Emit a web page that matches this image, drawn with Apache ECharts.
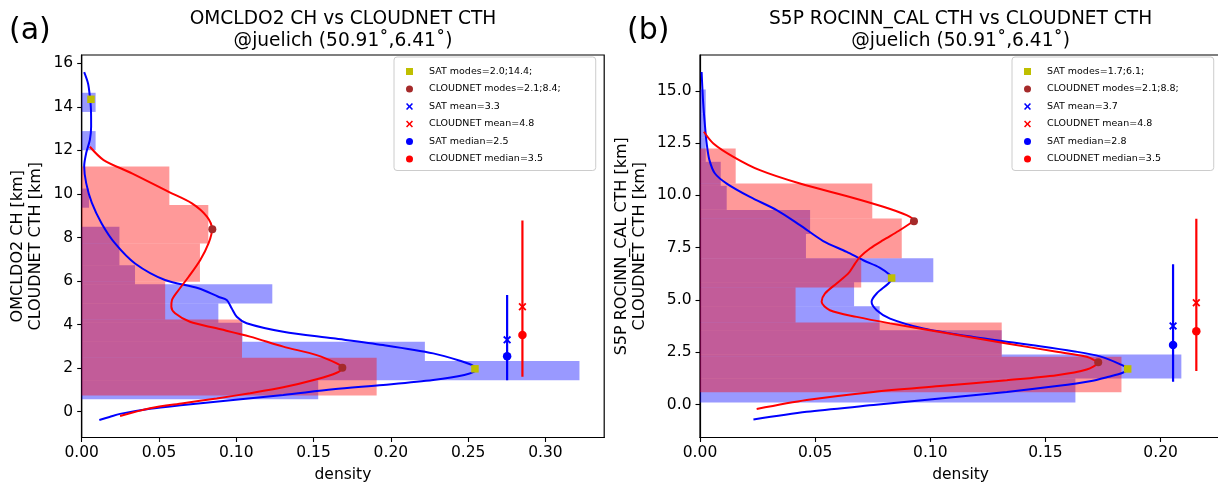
<!DOCTYPE html>
<html>
<head>
<meta charset="utf-8">
<script src="https://cdn.jsdelivr.net/npm/echarts@6/dist/echarts.min.js"></script>
<style>
html,body{margin:0;padding:0;background:#fff;}
#c{width:1218px;height:486px;}
</style>
</head>
<body>
<div id="c"></div>
<script>
// ---------- Panel (a): OMCLDO2 CH vs CLOUDNET CTH ----------
const satEdgesA = [0.57,1.45,2.33,3.21,4.09,4.97,5.85,6.73,7.61,8.49,9.37,10.25,11.13,12.01,12.89,13.77,14.65];
const satDensA  = [0.153,0.322,0.222,0.104,0.0884,0.1233,0.0345,0.0244,0.0244,0,0.0047,0,0,0.009,0,0.009];
const cnEdgesA  = [0.74,2.48,4.24,5.97,7.73,9.49,11.26];
const cnDensA   = [0.1908,0.1037,0.054,0.0765,0.0819,0.0567];

const satKdeA = [[0.0114,-0.38],[0.018,-0.24],[0.0248,-0.1],[0.0442,0.14],[0.0657,0.31],[0.098,0.54],
  [0.1304,0.77],[0.1627,1.03],[0.195,1.23],[0.2274,1.46],[0.2475,1.69],[0.2548,1.9],[0.2535,2.1],
  [0.2447,2.34],[0.2274,2.68],[0.195,3.06],[0.1627,3.37],[0.1304,3.67],[0.1067,4.06],[0.1003,4.36],
  [0.097,4.75],[0.0938,5.13],[0.0884,5.28],[0.0755,5.67],[0.0539,6.05],[0.0345,6.81],[0.0216,7.73],
  [0.0129,8.65],[0.0065,9.6],[0.0029,10.5],[0.0016,11.27],[0.0029,11.88],[0.0053,12.49],[0.0061,13.1],
  [0.006,13.86],[0.0053,14.47],[0.0041,15.08],[0.0016,15.6]];
const cnKdeA = [[0.0248,-0.2],[0.0442,0.16],[0.0657,0.39],[0.0873,0.61],[0.1089,0.85],[0.1304,1.12],
  [0.152,1.49],[0.165,1.79],[0.1688,2.02],[0.165,2.22],[0.152,2.6],[0.1304,2.99],[0.1089,3.45],
  [0.0873,3.83],[0.07,4.13],[0.0604,4.52],[0.058,4.82],[0.0584,5.13],[0.0627,5.59],[0.0692,6.2],
  [0.0767,6.97],[0.0821,7.74],[0.0843,8.38],[0.081,8.96],[0.0713,9.57],[0.0563,10.1],[0.0325,10.95],
  [0.0142,11.56],[0.0053,12.17]];

const satModesA = [[0.2544,1.97],[0.006,14.35]];
const cnModesA  = [[0.1686,2.02],[0.0845,8.38]];
const satStatA  = {x:0.2752, lo:1.45, hi:5.36, mean:3.3, median:2.55};
const cnStatA   = {x:0.2851, lo:1.6,  hi:8.78, mean:4.82, median:3.52};
const legendA = ['SAT modes=2.0;14.4;','CLOUDNET modes=2.1;8.4;','SAT mean=3.3','CLOUDNET mean=4.8','SAT median=2.5','CLOUDNET median=3.5'];
const titleA = 'OMCLDO2 CH vs CLOUDNET CTH\n@juelich (50.91˚,6.41˚)';
const ynameA = 'OMCLDO2 CH [km]\nCLOUDNET CTH [km]';
const xTicksA = [0,0.05,0.10,0.15,0.20,0.25,0.30];
const yTicksA = [0,2,4,6,8,10,12,14,16];

// ---------- Panel (b): S5P ROCINN_CAL CTH vs CLOUDNET CTH ----------
const satEdgesB = [0.09,1.24,2.39,3.55,4.70,5.85,7.00,8.16,9.31,10.46,11.61,12.76,13.92,15.07];
const satDensB  = [0.163,0.209,0.131,0.078,0.0669,0.1013,0.046,0.0478,0.0116,0.009,0.0025,0.0025,0.0025];
const cnEdgesB  = [0.59,2.28,3.92,5.60,7.00,8.90,10.57,12.25];
const cnDensB   = [0.183,0.131,0.0415,0.070,0.0876,0.0748,0.0155];

const satKdeB = [[0.0232,-0.72],[0.0463,-0.35],[0.0753,-0.03],[0.1042,0.29],[0.1332,0.6],[0.1549,0.88],
  [0.1693,1.11],[0.1775,1.33],[0.1835,1.52],[0.1857,1.7],[0.1825,1.92],[0.1737,2.3],[0.162,2.55],
  [0.1476,2.79],[0.1187,3.23],[0.097,3.64],[0.0825,4.11],[0.0767,4.51],[0.0745,4.91],[0.0767,5.31],
  [0.0818,5.79],[0.0832,6.03],[0.0825,6.19],[0.078,6.55],[0.0709,6.9],[0.0637,7.3],[0.0535,7.82],
  [0.0434,8.58],[0.0333,9.3],[0.0217,9.93],[0.0116,10.57],[0.0065,11.05],[0.0041,11.69],[0.0029,12.49],
  [0.0022,13.28],[0.0014,14.4],[0.0007,15.91]];
const cnKdeB = [[0.0246,-0.22],[0.0463,0.21],[0.0753,0.6],[0.1042,0.88],[0.1332,1.16],[0.1549,1.4],
  [0.1679,1.67],[0.1725,1.98],[0.1679,2.28],[0.1549,2.52],[0.1332,2.92],[0.1042,3.47],[0.0825,3.88],
  [0.068,4.19],[0.0564,4.51],[0.0528,4.91],[0.0543,5.31],[0.0593,5.79],[0.0644,6.27],[0.0673,6.74],
  [0.0695,7.06],[0.0738,7.46],[0.0795,7.86],[0.0862,8.3],[0.0912,8.66],[0.0929,8.8],[0.0897,9.06],
  [0.0796,9.46],[0.0651,9.93],[0.0434,10.57],[0.026,11.21],[0.0145,11.85],[0.0058,12.49],[0.0017,13.05]];

const satModesB = [[0.1857,1.7],[0.0832,6.05]];
const cnModesB  = [[0.1729,2.02],[0.0929,8.77]];
const satStatB  = {x:0.2054, lo:1.09, hi:6.71, mean:3.76, median:2.85};
const cnStatB   = {x:0.2155, lo:1.6,  hi:8.88, mean:4.87, median:3.5};
const legendB = ['SAT modes=1.7;6.1;','CLOUDNET modes=2.1;8.8;','SAT mean=3.7','CLOUDNET mean=4.8','SAT median=2.8','CLOUDNET median=3.5'];
const titleB = 'S5P ROCINN_CAL CTH vs CLOUDNET CTH\n@juelich (50.91˚,6.41˚)';
const ynameB = 'S5P ROCINN_CAL CTH [km]\nCLOUDNET CTH [km]';
const xTicksB = [0,0.05,0.10,0.15,0.20];
const yTicksB = [0,2.5,5,7.5,10,12.5,15];

// ---------- styling ----------
const FONT = 'DejaVu Sans';
const BLUE = '#0000ff', RED = '#ff0000', YEL = '#bfbf00', BROWN = '#a52a2a';
const SQUARE = 'path://M0,0L10,0L10,10L0,10Z';
const XMARK = 'path://M0,1.6L1.6,0L5,3.4L8.4,0L10,1.6L6.6,5L10,8.4L8.4,10L5,6.6L1.6,10L0,8.4L3.4,5Z';

function histData(edges, dens){
  const out = [];
  for (let i = 0; i < dens.length; i++) {
    if (dens[i] > 0) out.push([edges[i], edges[i+1], dens[i]]);
  }
  return out;
}
function histRender(color){
  return function(params, api){
    const y0 = api.value(0), y1 = api.value(1), w = api.value(2);
    const a = api.coord([0, y1]), b = api.coord([w, y0]);
    return {type:'rect', shape:{x:a[0], y:a[1], width:b[0]-a[0], height:b[1]-a[1]}, style:{fill:color}};
  };
}

function panelSeries(i, d){
  const ax = {xAxisIndex:i, yAxisIndex:i};
  return [
    Object.assign({type:'custom', name:'satHist'+i, renderItem:histRender('rgba(0,0,255,0.4)'),
      dimensions:['y0','y1','w'], encode:{x:2, y:[0,1]}, data:histData(d.satEdges,d.satDens), z:1, silent:true}, ax),
    Object.assign({type:'custom', name:'cnHist'+i, renderItem:histRender('rgba(255,0,0,0.4)'),
      dimensions:['y0','y1','w'], encode:{x:2, y:[0,1]}, data:histData(d.cnEdges,d.cnDens), z:1, silent:true}, ax),
    Object.assign({type:'line', name:'satKde'+i, data:d.satKde, showSymbol:false, symbol:'none', smooth:0.3,
      lineStyle:{color:BLUE, width:2}, itemStyle:{color:BLUE}, z:3, silent:true}, ax),
    Object.assign({type:'line', name:'cnKde'+i, data:d.cnKde, showSymbol:false, symbol:'none', smooth:0.3,
      lineStyle:{color:RED, width:2}, itemStyle:{color:RED}, z:3, silent:true}, ax),
    Object.assign({type:'line', name:'satErr'+i, data:[[d.satStat.x,d.satStat.lo],[d.satStat.x,d.satStat.hi]],
      symbol:'none', lineStyle:{color:BLUE, width:2.2}, z:3, silent:true}, ax),
    Object.assign({type:'line', name:'cnErr'+i, data:[[d.cnStat.x,d.cnStat.lo],[d.cnStat.x,d.cnStat.hi]],
      symbol:'none', lineStyle:{color:RED, width:2.2}, z:3, silent:true}, ax),
    Object.assign({type:'scatter', name:d.legend[0], data:d.satModes, symbol:'rect', symbolSize:7.5,
      itemStyle:{color:YEL, opacity:1}, z:6}, ax),
    Object.assign({type:'scatter', name:d.legend[1], data:d.cnModes, symbol:'circle', symbolSize:8,
      itemStyle:{color:BROWN, opacity:1}, z:6}, ax),
    Object.assign({type:'scatter', name:d.legend[2], data:[[d.satStat.x,d.satStat.mean]], symbol:XMARK, symbolSize:8,
      itemStyle:{color:BLUE, opacity:1}, z:6}, ax),
    Object.assign({type:'scatter', name:d.legend[3], data:[[d.cnStat.x,d.cnStat.mean]], symbol:XMARK, symbolSize:8,
      itemStyle:{color:RED, opacity:1}, z:6}, ax),
    Object.assign({type:'scatter', name:d.legend[4], data:[[d.satStat.x,d.satStat.median]], symbol:'circle', symbolSize:8.5,
      itemStyle:{color:BLUE, opacity:1}, z:6}, ax),
    Object.assign({type:'scatter', name:d.legend[5], data:[[d.cnStat.x,d.cnStat.median]], symbol:'circle', symbolSize:8.5,
      itemStyle:{color:RED, opacity:1}, z:6}, ax)
  ];
}

const A = {satEdges:satEdgesA, satDens:satDensA, cnEdges:cnEdgesA, cnDens:cnDensA, satKde:satKdeA, cnKde:cnKdeA,
  satModes:satModesA, cnModes:cnModesA, satStat:satStatA, cnStat:cnStatA, legend:legendA};
const B = {satEdges:satEdgesB, satDens:satDensB, cnEdges:cnEdgesB, cnDens:cnDensB, satKde:satKdeB, cnKde:cnKdeB,
  satModes:satModesB, cnModes:cnModesB, satStat:satStatB, cnStat:cnStatB, legend:legendB};

function legendFor(names, left){
  const icons = [SQUARE, 'circle', XMARK, XMARK, 'circle', 'circle'];
  return {
    orient:'vertical', left:left, top:57, padding:[9.5,35,6.5,12],
    itemWidth:29, itemHeight:7, itemGap:7.5, selectedMode:false,
    backgroundColor:'rgba(255,255,255,0.8)', borderColor:'#cccccc', borderWidth:1, borderRadius:3,
    textStyle:{fontFamily:FONT, fontSize:9.5, lineHeight:10, color:'#000'},
    data:names.map((n,k)=>({name:n, icon:icons[k]}))
  };
}

const axisLineStyle = {show:true, onZero:false, lineStyle:{color:'#000', width:1.2}};
function xAxisFor(i, max, ticks){
  return {type:'value', gridIndex:i, min:0, max:max, axisLine:axisLineStyle,
    axisTick:{show:true, length:4.5, lineStyle:{color:'#000', width:1.1}, customValues:ticks},
    axisLabel:{customValues:ticks, formatter:v=>v.toFixed(2), fontFamily:FONT, fontSize:15.5, color:'#000', margin:7},
    splitLine:{show:false}, name:'density', nameLocation:'middle', nameGap:29.5, nameMoveOverlap:false,
    nameTextStyle:{fontFamily:FONT, fontSize:15.5, color:'#000'}};
}
function yAxisFor(i, min, max, ticks, digits, name, gap){
  return {type:'value', gridIndex:i, min:min, max:max, axisLine:axisLineStyle,
    axisTick:{show:true, length:4.5, lineStyle:{color:'#000', width:1.1}, customValues:ticks},
    axisLabel:{customValues:ticks, formatter:v=>v.toFixed(digits), fontFamily:FONT, fontSize:15.5, color:'#000', margin:8.5},
    splitLine:{show:false}, name:name, nameLocation:'middle', nameRotate:90, nameGap:gap, nameMoveOverlap:false,
    nameTextStyle:{fontFamily:FONT, fontSize:16, lineHeight:18, color:'#000'}};
}

const titleStyle = {fontFamily:FONT, fontSize:18.6, lineHeight:22.3, fontWeight:'normal', color:'#000'};
const tagStyle = {fontFamily:FONT, fontSize:30, fontWeight:'normal', color:'#000'};

const option = {
  animation:false,
  backgroundColor:'#fff',
  title:[
    {text:'(a)', left:9, top:16, padding:0, textStyle:tagStyle},
    {text:'(b)', left:627, top:16, padding:0, textStyle:tagStyle},
    {text:titleA, left:343, top:8, padding:0, textAlign:'center', textStyle:titleStyle},
    {text:titleB, left:960.6, top:8, padding:0, textAlign:'center', textStyle:titleStyle}
  ],
  legend:[legendFor(legendA, 394), legendFor(legendB, 1012)],
  grid:[
    {left:81.7, top:55, width:522.5, height:382.5, show:true, borderColor:'#000', borderWidth:1.2, backgroundColor:'transparent', containLabel:false, outerBoundsMode:'none'},
    {left:700, top:55, width:521.2, height:382.5, show:true, borderColor:'#000', borderWidth:1.2, backgroundColor:'transparent', containLabel:false, outerBoundsMode:'none'}
  ],
  xAxis:[xAxisFor(0, 0.338, xTicksA), xAxisFor(1, 0.2263, xTicksB)],
  yAxis:[
    yAxisFor(0, -1.185, 16.385, yTicksA, 0, ynameA, 36.5),
    yAxisFor(1, -1.58, 16.72, yTicksB, 1, ynameB, 51)
  ],
  series:[].concat(panelSeries(0, A), panelSeries(1, B))
};

const chart = echarts.init(document.getElementById('c'), null, {renderer:'canvas'});
chart.setOption(option);
</script>
</body>
</html>
